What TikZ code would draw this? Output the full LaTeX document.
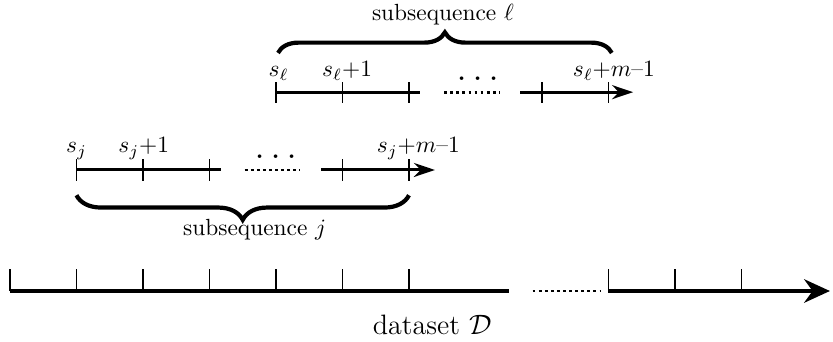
\documentclass[tikz,border=0pt]{standalone}
\usetikzlibrary{arrows.meta,decorations.pathreplacing}
\begin{document}
\begin{tikzpicture}[scale=1,
    axis/.style={line width=1.7pt},
    seq/.style={line width=1.3pt},
    tick/.style={line width=0.8pt},
    gap/.style={line width=1.2pt, dash pattern=on 1.2pt off 1.4pt},
    brc/.style={decorate, line width=1.8pt},
    lbl/.style={anchor=base, inner sep=0pt},
    dots/.style={anchor=base, inner sep=0pt, font=\fontsize{19}{21}\selectfont}]
  \useasboundingbox (-0.15,-0.752) rectangle (12.376,4.376);
  % dataset
  \draw[axis] (0,0) -- (7.5,0);
  \draw[gap] (7.86,0) -- (8.87,0);
  \draw[axis,-{Stealth[length=11pt,width=10pt]}] (9,0) -- (12.33,0);
  \foreach \x in {0,...,6,9,10,11} {
    \draw[line width=0.6pt] (\x,0) -- (\x,0.33);
  }
  \node[lbl, font=\large] (data) at (6.35,-0.65) {dataset $\mathcal{D}$};
  % subsequence j
  \draw[seq] (1,1.82) -- (3.17,1.82);
  \draw[gap] (3.53,1.82) -- (4.36,1.82);
  \draw[seq,-{Stealth[length=9pt,width=6pt]}] (4.68,1.82) -- (6.39,1.82);
  \foreach \x in {1,2,3,5,6} {
    \draw[tick] (\x,1.66) -- (\x,1.98);
  }
  \node[lbl] (sj) at (1,2.08) {$s_j$};
  \node[lbl] (sj1) at (2.01,2.08) {$s_j$+1};
  \node[lbl] (sjm) at (6.14,2.08) {$s_j$+$m$--1};
  \node[dots] (dj) at (4,2.0) {.\kern2pt.\kern2pt.};
  \draw[brc, decoration={brace, mirror, amplitude=0.37cm}] (1,1.44) -- (6,1.44);
  \node[lbl] (subj) at (3.68,0.84) {subsequence $j$};
  % subsequence l
  \draw[seq] (4,2.99) -- (6.17,2.99);
  \draw[gap] (6.53,2.99) -- (7.37,2.99);
  \draw[seq,-{Stealth[length=9pt,width=6pt]}] (7.67,2.99) -- (9.37,2.99);
  \foreach \x in {4,5,6,8,9} {
    \draw[tick] (\x,2.83) -- (\x,3.15);
  }
  \node[lbl] (sl) at (4.04,3.22) {$s_\ell$};
  \node[lbl] (sl1) at (5.07,3.22) {$s_\ell$+1};
  \node[lbl] (slm) at (9.08,3.22) {$s_\ell$+$m$--1};
  \node[dots] (dl) at (7.04,3.17) {.\kern2pt.\kern2pt.};
  \draw[brc, decoration={brace, amplitude=0.31cm}] (4.03,3.58) -- (9.05,3.58);
  \node[lbl] (subl) at (6.51,4.07) {subsequence $\ell$};
\end{tikzpicture}
\end{document}
